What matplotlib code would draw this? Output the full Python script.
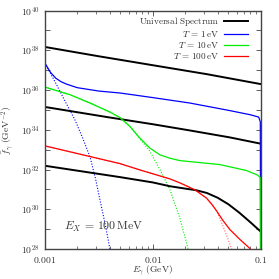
import numpy as np
import matplotlib
matplotlib.use('Agg')
import matplotlib.pyplot as plt
from matplotlib.ticker import FixedLocator, LogLocator, NullFormatter

plt.rcParams['mathtext.fontset'] = 'cm'
plt.rcParams['font.family'] = 'serif'
plt.rcParams['font.serif'] = ['DejaVu Serif']

# data, as log10(E / GeV) and log10(f / GeV^-2)
univ_hi_x = [-3.0, -2.5, -2.0, -1.5, -1.0]
univ_hi_y = [38.17, 37.70, 37.25, 36.80, 36.30]

univ_mid_x = [-3.0, -2.4, -2.0, -1.66, -1.29, -1.0]
univ_mid_y = [35.15, 34.62, 34.28, 33.97, 33.62, 33.30]

univ_lo_x = [-3.0, -2.306, -2.0, -1.843, -1.7, -1.6, -1.5, -1.4, -1.3, -1.2, -1.1, -1.0]
univ_lo_y = [32.19, 31.62, 31.35, 31.16, 31.04, 30.96, 30.82, 30.58, 30.25, 29.83,
             29.36, 28.87]

t1_x = [-3.0, -2.95, -2.9, -2.85, -2.8, -2.7, -2.5, -2.3, -2.0, -1.66, -1.3, -1.1,
        -1.02, -1.005, -1.0]
t1_y = [37.36, 36.90, 36.60, 36.42, 36.30, 36.12, 35.95, 35.85, 35.62, 35.35, 34.98,
        34.76, 34.64, 34.40, 20.0]
t1_dot_x = [-3.0, -2.9, -2.8, -2.722, -2.65, -2.583, -2.53, -2.49, -2.44, -2.398, -2.37]
t1_dot_y = [37.36, 36.35, 35.30, 34.50, 33.58, 32.65, 31.50, 30.47, 29.20, 28.00, 27.0]

t10_x = [-3.0, -2.769, -2.583, -2.4, -2.306, -2.213, -2.12, -2.028, -1.935, -1.843,
         -1.75, -1.38, -1.133, -1.03, -1.005, -1.0]
t10_y = [36.15, 35.77, 35.35, 34.90, 34.62, 34.17, 33.58, 33.08, 32.74, 32.57,
         32.45, 32.25, 31.95, 31.72, 31.60, 20.0]
t10_dot_x = [-3.0, -2.769, -2.583, -2.4, -2.306, -2.213, -2.12, -2.028, -1.935, -1.843,
             -1.75, -1.673, -1.64]
t10_dot_y = [36.15, 35.77, 35.35, 34.90, 34.62, 34.17, 33.55, 32.92, 32.00, 31.00,
             29.55, 28.00, 27.2]

t100_x = [-3.0, -2.306, -2.12, -1.843, -1.75, -1.611, -1.503, -1.45, -1.41, -1.349,
          -1.287, -1.194, -1.102, -1.05]
t100_y = [33.19, 32.30, 31.98, 31.53, 31.33, 30.98, 30.56, 30.22, 29.92, 29.42,
          28.98, 28.48, 28.03, 27.7]
t100_dot_x = [-3.0, -2.306, -2.12, -1.843, -1.75, -1.611, -1.503, -1.45, -1.41, -1.38,
              -1.318, -1.271, -1.25]
t100_dot_y = [33.19, 32.30, 31.98, 31.53, 31.33, 30.98, 30.56, 30.22, 29.90, 29.55,
              28.70, 28.00, 27.6]

labels = [r'$\mathrm{Universal\ Spectrum}$', r'$T\,=\,1\,\mathrm{eV}$',
          r'$T\,=\,10\,\mathrm{eV}$', r'$T\,=\,100\,\mathrm{eV}$']


def p(xs, ys):
    return 10 ** np.array(xs), 10 ** np.array(ys)


fig = plt.figure(figsize=(2.79, 2.79), dpi=100)
ax = fig.add_axes([0.161, 0.1075, 0.774, 0.8545])

blue = '#0000ff'
green = '#00ee00'
red = '#ff0000'

ax.plot(*p(t1_dot_x, t1_dot_y), color=blue, lw=0.8, ls=(0, (1, 1.5)))
ax.plot(*p(t10_dot_x, t10_dot_y), color=green, lw=0.8, ls=(0, (1, 1.5)))
ax.plot(*p(t100_dot_x, t100_dot_y), color=red, lw=0.8, ls=(0, (1, 1.5)), alpha=0.6)

l0, = ax.plot(*p(univ_hi_x, univ_hi_y), color='black', lw=1.4)
ax.plot(*p(univ_mid_x, univ_mid_y), color='black', lw=1.4)
ax.plot(*p(univ_lo_x, univ_lo_y), color='black', lw=1.4)
l1, = ax.plot(*p(t1_x, t1_y), color=blue, lw=0.9)
l2, = ax.plot(*p(t10_x, t10_y), color=green, lw=0.9)
l3, = ax.plot(*p(t100_x, t100_y), color=red, lw=0.9)

ax.set_xscale('log')
ax.set_yscale('log')
ax.set_xlim(1e-3, 0.1)
ax.set_ylim(1e28, 1e40)

ax.set_xticks([1e-3, 1e-2, 1e-1])
ax.set_xticklabels([r'$0.001$', r'$0.01$', r'$0.1$'])
ax.xaxis.set_minor_locator(LogLocator(base=10, subs=np.arange(2, 10)))
ax.xaxis.set_minor_formatter(NullFormatter())

ax.yaxis.set_major_locator(FixedLocator([10.0 ** k for k in range(28, 41)]))
ax.set_yticklabels([r'$10^{%d}$' % k if k % 2 == 0 else '' for k in range(28, 41)])
ax.yaxis.set_minor_locator(FixedLocator([]))

gray = '#444444'
for s in ax.spines.values():
    s.set_color(gray)
    s.set_linewidth(1.0)
ax.tick_params(which='both', direction='in', top=True, right=True, colors=gray,
               labelcolor='#333333', labelsize=7)
ax.tick_params(which='major', length=3.5, width=0.6)
ax.tick_params(which='minor', length=2, width=0.5)
ax.tick_params(axis='x', pad=4.5)
ax.tick_params(axis='y', pad=4)

ax.set_xlabel(r'$E_\gamma\ \mathrm{(GeV)}$', fontsize=6.8, color='#333333', va='center')
ax.xaxis.set_label_coords(0.5, -0.093)
ax.set_ylabel(r'$\bar{f}_\gamma\ (\mathrm{GeV}^{-2})$', fontsize=7, color='#333333',
              labelpad=3)

ax.text(0.09, 0.08, r'$E_X\,=\,100\,\mathrm{MeV}$', transform=ax.transAxes,
        fontsize=8.5, color='#333333')

leg = ax.legend([l0, l1, l2, l3], labels, loc='upper right', frameon=False,
                markerfirst=False, fontsize=6.6, handlelength=2.6, handletextpad=0.5,
                labelspacing=0.1, borderaxespad=0.1, bbox_to_anchor=(0.96, 1.0))
for t in leg.get_texts():
    t.set_color('#333333')

fig.savefig('out.png', dpi=100)
